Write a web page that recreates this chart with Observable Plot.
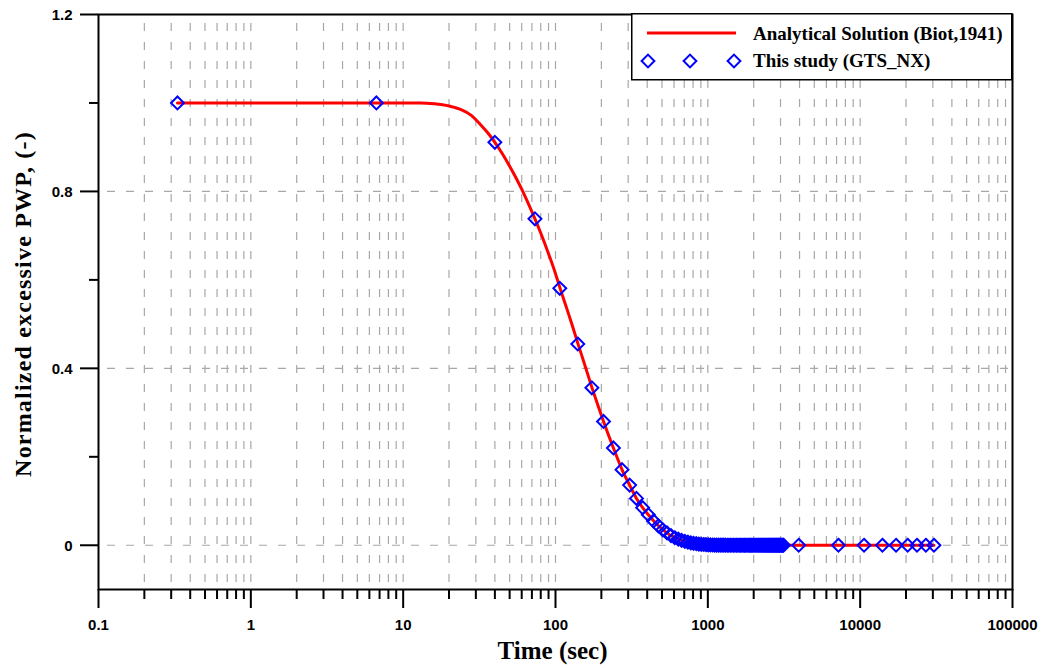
<!DOCTYPE html>
<html>
<head>
<meta charset="utf-8">
<script src="https://cdn.jsdelivr.net/npm/d3@7"></script>
<script src="https://cdn.jsdelivr.net/npm/@observablehq/plot@0.6"></script>
<style>
  html, body { margin: 0; padding: 0; background: #fff; }
  #wrap { position: relative; width: 1048px; height: 668px; }
  #legend { position: absolute; left: 631px; top: 13px; }
</style>
</head>
<body>
<div id="wrap"></div>
<script>
// ---- Data ----
const xMajorTicks = [0.1, 1, 10, 100, 1000, 10000, 100000];
const xTickLabels = ["0.1", "1", "10", "100", "1000", "10000", "100000"];
const xMinorTicks = [
  0.2,0.3,0.4,0.5,0.6,0.7,0.8,0.9,
  2,3,4,5,6,7,8,9,
  20,30,40,50,60,70,80,90,
  200,300,400,500,600,700,800,900,
  2000,3000,4000,5000,6000,7000,8000,9000,
  20000,30000,40000,50000,60000,70000,80000,90000
];
const yMajorTicks = [0, 0.4, 0.8, 1.2];
const yTickLabels = ["0", "0.4", "0.8", "1.2"];
const yMinorTicks = [0.2, 0.6, 1.0];
const yGridValues = [0, 0.4, 0.8];

// Analytical solution (Biot, 1941): time (sec), normalized PWP
const analyticTime = [0.33, 1, 5, 10, 13, 16, 20, 24, 28, 32, 36, 40, 45, 50, 55, 60, 66, 73.3, 80, 90, 100, 106.7, 120, 130, 140, 155, 173.3, 190, 206.7, 240, 273.3, 306.7, 340, 373.3, 406.7, 450, 500, 560, 620, 700, 800, 900, 1000, 1200, 1500, 3140, 30500];
const analyticPWP  = [1, 1, 1, 1, 1, 0.998, 0.993, 0.985, 0.972, 0.952, 0.932, 0.911, 0.884, 0.857, 0.831, 0.805, 0.774, 0.738, 0.706, 0.659, 0.614, 0.583, 0.53, 0.493, 0.457, 0.41, 0.357, 0.316, 0.28, 0.22, 0.171, 0.136, 0.106, 0.085, 0.069, 0.052, 0.037, 0.024, 0.016, 0.009, 0.005, 0.0025, 0.0012, 0.0003, 0, 0, 0];

// This study (GTS_NX): time (sec), normalized PWP
const studyTime = [0.33, 6.67, 40, 73.3, 106.7, 140, 173.3, 206.7, 240, 273.3, 306.7, 340, 373.3, 406.7, 440, 473.3, 506.7, 540, 573.3, 606.7, 640, 673.3, 706.7, 740, 773.3, 806.7, 840, 873.3, 906.7, 940, 973.3, 1006.7, 1040, 1073.3, 1106.7, 1140, 1173.3, 1206.7, 1240, 1273.3, 1306.7, 1340, 1373.3, 1406.7, 1440, 1473.3, 1506.7, 1540, 1573.3, 1606.7, 1640, 1673.3, 1706.7, 1740, 1773.3, 1806.7, 1840, 1873.3, 1906.7, 1940, 1973.3, 2006.7, 2040, 2073.3, 2106.7, 2140, 2173.3, 2206.7, 2240, 2273.3, 2306.7, 2340, 2373.3, 2406.7, 2440, 2473.3, 2506.7, 2540, 2573.3, 2606.7, 2640, 2673.3, 2706.7, 2740, 2773.3, 2806.7, 2840, 2873.3, 2906.7, 2940, 2973.3, 3006.7, 3040, 3073.3, 3106.7, 3140, 3950, 7200, 10600, 14000, 17200, 20500, 23600, 27000, 30500];
const studyPWP = [1, 1, 0.911, 0.738, 0.581, 0.455, 0.356, 0.28, 0.22, 0.171, 0.136, 0.106, 0.085, 0.069, 0.055, 0.044, 0.035, 0.028, 0.022, 0.017, 0.014, 0.011, 0.009, 0.007, 0.0055, 0.0045, 0.0035, 0.0028, 0.0022, 0.0017, 0.0013, 0.001, 0.0008, 0.0006, 0.0005, 0.0004, 0.0003, 0.0002, 0.0002, 0.0001, 0.0001, 0, 0, 0, 0, 0, 0, 0, 0, 0, 0, 0, 0, 0, 0, 0, 0, 0, 0, 0, 0, 0, 0, 0, 0, 0, 0, 0, 0, 0, 0, 0, 0, 0, 0, 0, 0, 0, 0, 0, 0, 0, 0, 0, 0, 0, 0, 0, 0, 0, 0, 0, 0, 0, 0, 0, 0, 0, 0, 0, 0, 0, 0, 0, 0];

const seriesNames = ["Analytical Solution (Biot,1941)", "This study (GTS_NX)"];
const xTitle = "Time (sec)";
const yTitle = "Normalized excessive PWP, (-)";

// ---- Build tables ----
const analytic = analyticTime.map((t, i) => ({t, v: analyticPWP[i]}));
const study = studyTime.map((t, i) => ({t, v: studyPWP[i]}));
const xLabelRows = xMajorTicks.map((t, i) => ({t, label: xTickLabels[i]}));
const yLabelRows = yMajorTicks.map((v, i) => ({v, label: yTickLabels[i]}));

const serif = "'Liberation Serif', 'Times New Roman', serif";
const sans = "'Liberation Sans', Arial, sans-serif";
const gridStyle = {stroke: "#a8a8a8", strokeWidth: 1.2, strokeDasharray: "8,11", strokeDashoffset: 10};

const chart = Plot.plot({
  width: 1048,
  height: 668,
  marginLeft: 98,
  marginRight: 36,
  marginTop: 14,
  marginBottom: 79,
  style: {background: "white", color: "black", fontFamily: sans, overflow: "visible"},
  x: {type: "log", domain: [0.1, 100000]},
  y: {domain: [-0.1, 1.2]},
  marks: [
    Plot.ruleX(xMinorTicks.concat(xMajorTicks.slice(1, -1)), {y1: 1.2, y2: -0.1, ...gridStyle}),
    Plot.ruleY(yGridValues, {x1: 0.1, x2: 100000, ...gridStyle}),
    Plot.line(analytic, {x: "t", y: "v", stroke: "#ff0000", strokeWidth: 3, curve: "monotone-x"}),
    Plot.dot(study, {x: "t", y: "v", symbol: "diamond2", r: 5.8, stroke: "#0000ff", strokeWidth: 2, fill: "none"}),
    Plot.frame({stroke: "black", strokeWidth: 2}),
    Plot.axisX(xMajorTicks, {tickSize: 19, tickFormat: () => "", strokeWidth: 2, label: null}),
    Plot.axisX(xMinorTicks, {tickSize: 10, tickFormat: () => "", strokeWidth: 2, label: null}),
    Plot.axisY(yMajorTicks, {tickSize: 18, tickFormat: () => "", strokeWidth: 2, label: null}),
    Plot.axisY(yMinorTicks, {tickSize: 9, tickFormat: () => "", strokeWidth: 2, label: null}),
    Plot.text(xLabelRows, {x: "t", text: "label", frameAnchor: "bottom", textAnchor: "middle", lineAnchor: "middle", dy: 36, fontSize: 15, fontWeight: "bold", fontFamily: sans}),
    Plot.text(yLabelRows, {y: "v", text: "label", frameAnchor: "left", textAnchor: "end", lineAnchor: "middle", dx: -26, dy: 1, fontSize: 15, fontWeight: "bold", fontFamily: sans}),
    Plot.text([yTitle], {frameAnchor: "left", textAnchor: "middle", lineAnchor: "middle", rotate: -90, dx: -75, dy: 2, fontSize: 24, fontWeight: "bold", fontFamily: serif}),
    Plot.text([xTitle], {frameAnchor: "bottom", textAnchor: "middle", lineAnchor: "middle", dy: 61, dx: -3, fontSize: 25, fontWeight: "bold", fontFamily: serif})
  ]
});

const wrap = document.getElementById("wrap");
wrap.appendChild(chart);

// stretch the y title slightly as in the reference
d3.select(chart).selectAll("text").filter(function() { return this.textContent === yTitle; })
  .style("letter-spacing", "1.2px");

// ---- Legend (overlay box) ----
const lg = d3.select(wrap).append("svg")
  .attr("id", "legend").attr("width", 382).attr("height", 68);
lg.append("rect").attr("x", 0.75).attr("y", 0.75).attr("width", 380).attr("height", 66)
  .attr("fill", "white").attr("stroke", "black").attr("stroke-width", 1.5);
lg.append("line").attr("x1", 16).attr("x2", 105).attr("y1", 20).attr("y2", 20)
  .attr("stroke", "#ff0000").attr("stroke-width", 3);
const diamondXs = [17, 59, 103];
diamondXs.forEach(cx => {
  const h = 6.4;
  lg.append("polygon")
    .attr("points", `${cx},${48 - h} ${cx + h},48 ${cx},${48 + h} ${cx - h},48`)
    .attr("fill", "none").attr("stroke", "#0000ff").attr("stroke-width", 2);
});
lg.append("text").attr("x", 122).attr("y", 27).text(seriesNames[0])
  .attr("font-family", serif).attr("font-weight", "bold").attr("font-size", 19);
lg.append("text").attr("x", 122).attr("y", 54).text(seriesNames[1])
  .attr("font-family", serif).attr("font-weight", "bold").attr("font-size", 19);
</script>
</body>
</html>
